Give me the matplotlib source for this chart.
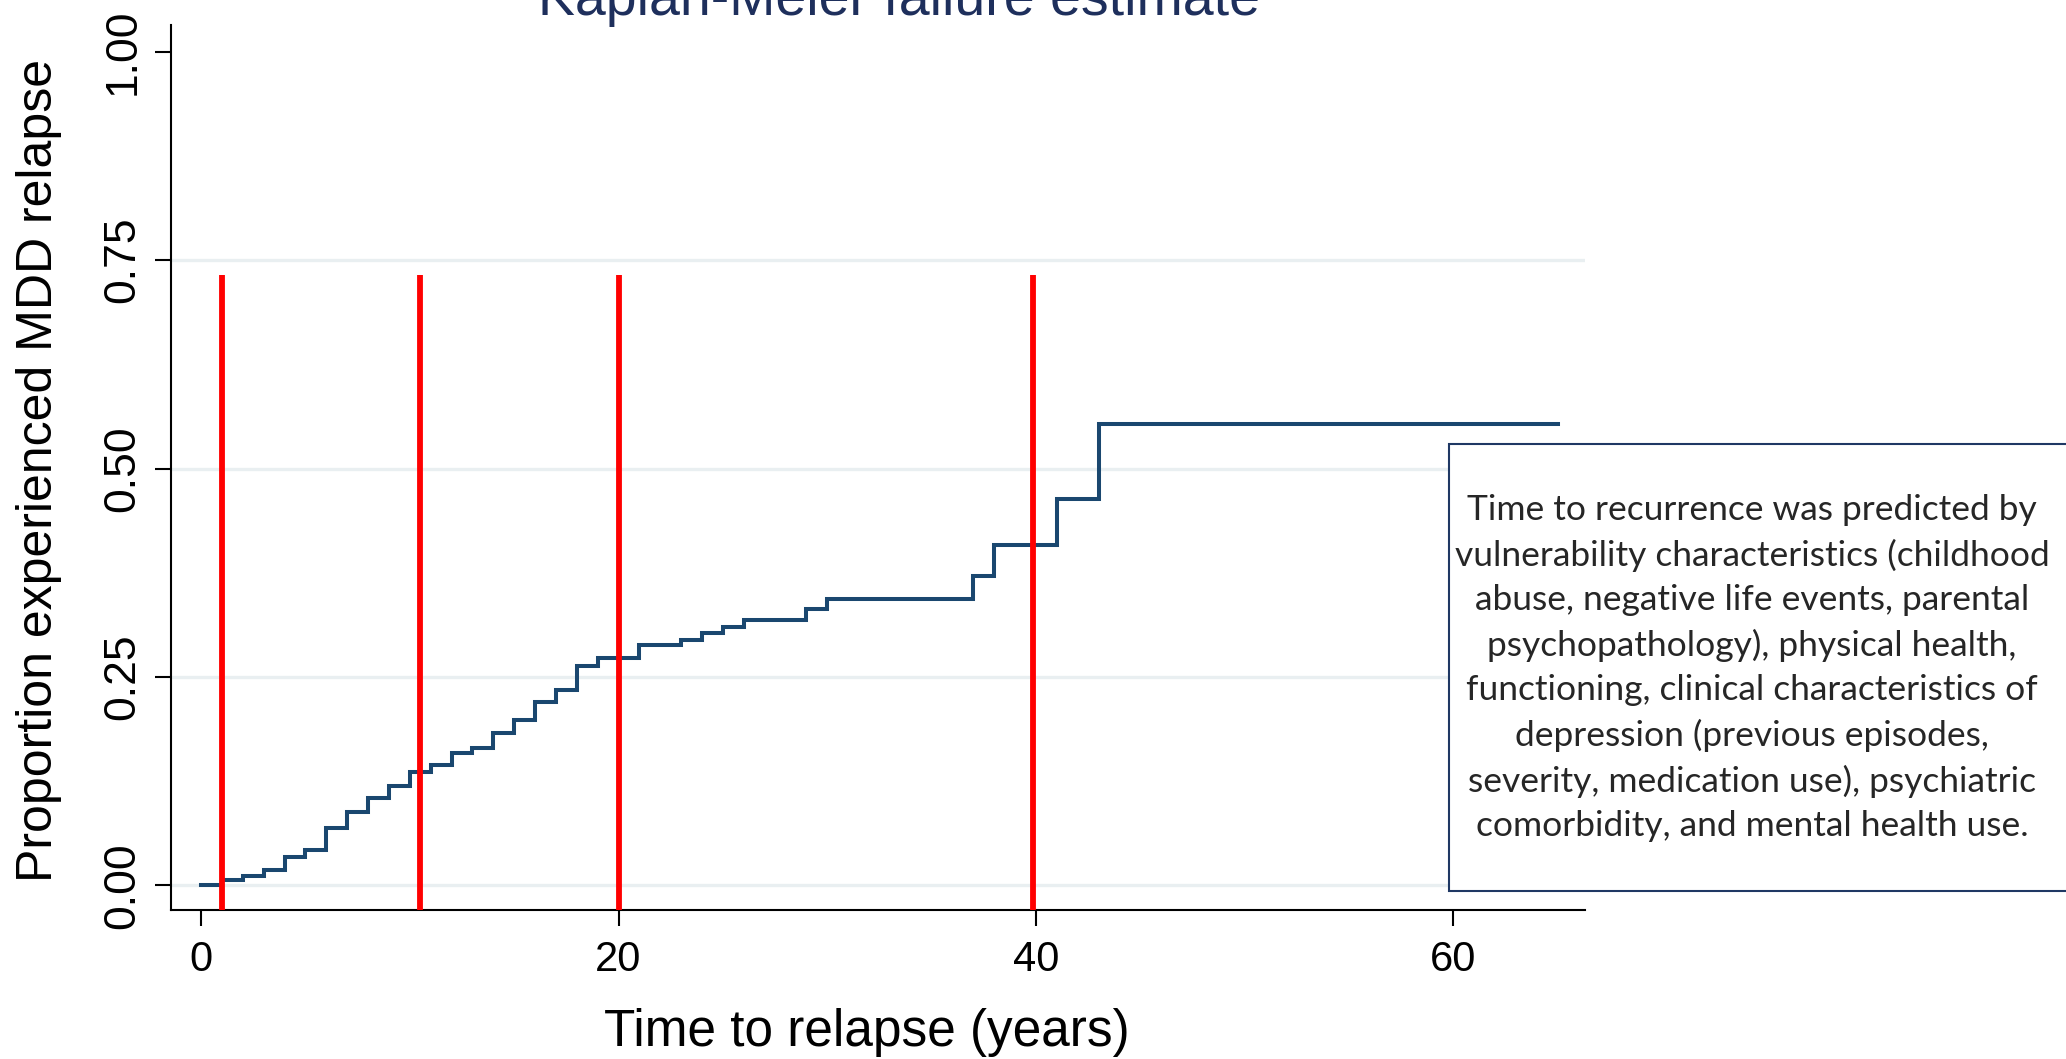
import numpy as np
import matplotlib.pyplot as plt
from matplotlib.patches import Rectangle

# Kaplan-Meier failure curve (step times in years, cumulative failure)
step_years = [0, 1, 2, 3, 4, 5, 6, 7, 8, 9, 10, 11, 12, 13, 14, 15, 16, 17, 18, 19,
              21, 23, 24, 25, 26, 29, 30, 37, 38, 41, 43, 65]
failure = [0.000, 0.006, 0.011, 0.019, 0.034, 0.043, 0.069, 0.088, 0.105, 0.119,
           0.136, 0.144, 0.159, 0.165, 0.183, 0.198, 0.220, 0.234, 0.263, 0.273,
           0.288, 0.295, 0.303, 0.310, 0.319, 0.331, 0.344, 0.371, 0.408, 0.463,
           0.553, 0.553]

# red marker lines
marker_years = [1, 10.5, 20, 39.85]
marker_top = 0.732

xticks = [0, 20, 40, 60]
yticks = [0, 0.25, 0.5, 0.75, 1.0]
ytick_labels = ["0.00", "0.25", "0.50", "0.75", "1.00"]
grid_levels = [0, 0.25, 0.5, 0.75]

title = "Kaplan-Meier failure estimate"
xlabel = "Time to relapse (years)"
ylabel = "Proportion experienced MDD relapse"
note = ("Time to recurrence was predicted by\n"
        "vulnerability characteristics (childhood\n"
        "abuse, negative life events, parental\n"
        "psychopathology), physical health,\n"
        "functioning, clinical characteristics of\n"
        "depression (previous episodes,\n"
        "severity, medication use), psychiatric\n"
        "comorbidity, and mental health use.")

navy = "#1a476f"
W, H = 2066, 1059

plt.rcParams['font.family'] = ['Liberation Sans', 'DejaVu Sans']

fig = plt.figure(figsize=(W / 100, H / 100), dpi=100)
fig.patch.set_facecolor("white")
ax = fig.add_axes([171 / W, (H - 910) / H, (1585 - 171) / W, (910 - 25) / H])

ymin, ymax = -0.0294, 1.032
ax.set_xlim(-1.44, 66.3)
ax.set_ylim(ymin, ymax)

# light horizontal grid
for g in grid_levels:
    ax.axhline(g, color="#e9eff1", lw=2.4, zorder=1)

ax.step(step_years, failure, where="post", color=navy, lw=2.9, zorder=3,
        solid_joinstyle="miter")

ax.vlines(marker_years, ymin, marker_top, color="#ff0000", lw=4.2, zorder=4)

for side in ["top", "right"]:
    ax.spines[side].set_visible(False)
for side in ["left", "bottom"]:
    ax.spines[side].set_linewidth(1.5)
    ax.spines[side].set_color("black")

ax.set_xticks(xticks)
ax.set_xticklabels([str(t) for t in xticks], fontsize=30)
ax.set_yticks(yticks)
ax.set_yticklabels(ytick_labels, fontsize=32, rotation=90, va="center")
ax.tick_params(axis="both", length=11.5, width=1.5, color="black")
ax.tick_params(axis="x", pad=10)
ax.tick_params(axis="y", pad=8.5)

# titles placed in figure pixels
fig.text(899 / W, 1 - 15 / H, title, ha="center", va="baseline",
         fontsize=40, color="#1e2f5c")
fig.text(867 / W, 1 - 1046 / H, xlabel, ha="center", va="baseline", fontsize=37)
fig.text(39.5 / W, 1 - 470 / H, ylabel, ha="center", va="center",
         rotation=90, fontsize=36)

# annotation box running off the right edge
box = Rectangle((1449 / W, 1 - 891 / H), (2090 - 1449) / W, (891 - 444) / H,
                transform=fig.transFigure, facecolor="white",
                edgecolor="#1f3864", lw=1.5, zorder=10)
fig.add_artist(box)
fig.text(1752 / W, 1 - 668 / H, note, ha="center", va="center",
         multialignment="center", fontsize=25.5, linespacing=1.47,
         family=["Lato", "DejaVu Sans"], color="#262626", zorder=11)

fig.savefig("out.png", dpi=100)
